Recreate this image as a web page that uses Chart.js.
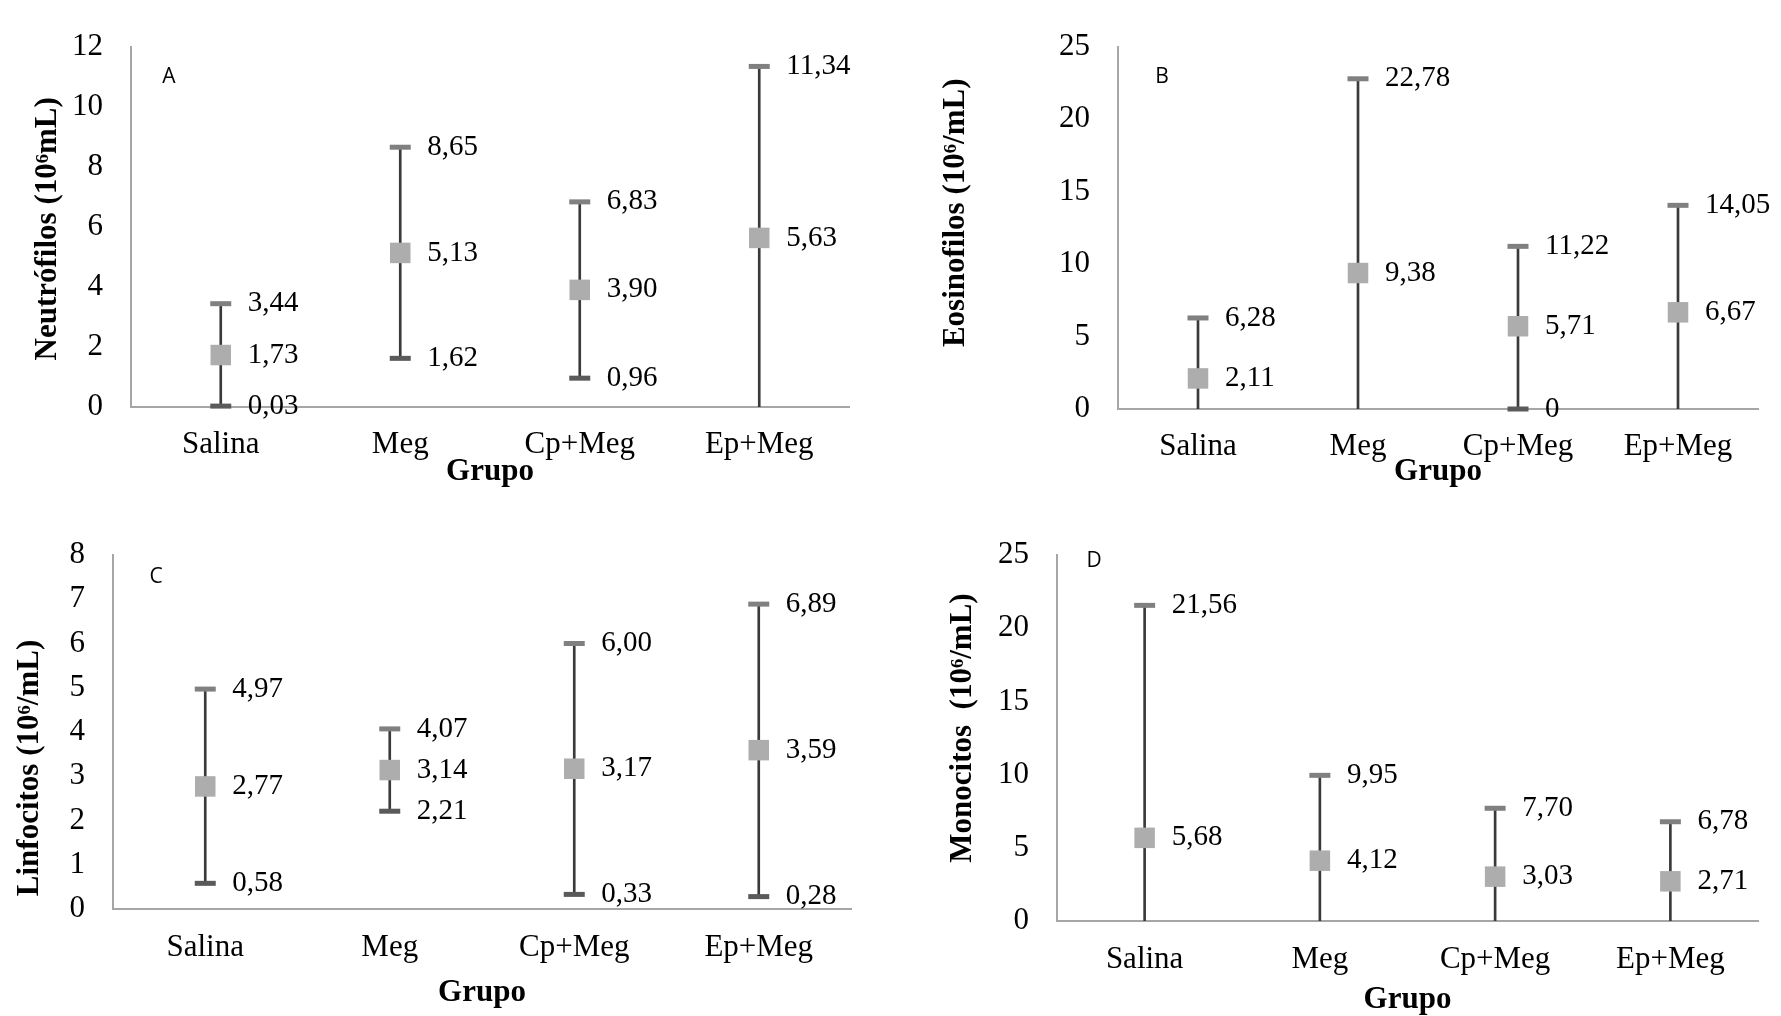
<!DOCTYPE html>
<html>
<head>
<meta charset="utf-8">
<script src="https://cdn.jsdelivr.net/npm/chart.js@4.4.1/dist/chart.umd.min.js"></script>
<style>
  html, body { margin: 0; padding: 0; background: #fff; }
  body { width: 1781px; height: 1016px; position: relative; overflow: hidden; }
  canvas { position: absolute; }
</style>
</head>
<body>
<canvas id="chartA" width="890" height="500" style="left:0;top:0"></canvas>
<canvas id="chartB" width="891" height="500" style="left:890px;top:0"></canvas>
<canvas id="chartC" width="890" height="516" style="left:0;top:500px"></canvas>
<canvas id="chartD" width="891" height="516" style="left:890px;top:500px"></canvas>
<script>
// groups on the x axis (same for all four panels)
const categories = ['Salina', 'Meg', 'Cp+Meg', 'Ep+Meg'];

// A - neutrophils
const neutroHigh = [3.44, 8.65, 6.83, 11.34];
const neutroMean = [1.73, 5.13, 3.90, 5.63];
const neutroLow  = [0.03, 1.62, 0.96, null];
const neutroTicks = [0, 2, 4, 6, 8, 10, 12];

// B - eosinophils
const eosinoHigh = [6.28, 22.78, 11.22, 14.05];
const eosinoMean = [2.11, 9.38, 5.71, 6.67];
const eosinoLow  = [null, null, 0, null];
const eosinoTicks = [0, 5, 10, 15, 20, 25];

// C - lymphocytes
const linfoHigh = [4.97, 4.07, 6.00, 6.89];
const linfoMean = [2.77, 3.14, 3.17, 3.59];
const linfoLow  = [0.58, 2.21, 0.33, 0.28];
const linfoTicks = [0, 1, 2, 3, 4, 5, 6, 7, 8];

// D - monocytes
const monoHigh = [21.56, 9.95, 7.70, 6.78];
const monoMean = [5.68, 4.12, 3.03, 2.71];
const monoLow  = [null, null, null, null];
const monoTicks = [0, 5, 10, 15, 20, 25];

const SERIF = '"Liberation Serif", "Times New Roman", serif';
const AXIS_GREY = '#A6A6A6';

function fmt(v) {
  return v === 0 ? '0' : v.toFixed(2).replace('.', ',');
}

// numbers written to the right of each marker
const valueLabels = {
  id: 'valueLabels',
  afterDatasetsDraw(chart) {
    const ctx = chart.ctx;
    ctx.save();
    ctx.font = '29px ' + SERIF;
    ctx.fillStyle = '#000';
    ctx.textAlign = 'left';
    ctx.textBaseline = 'middle';
    chart.data.datasets.forEach((ds, di) => {
      if (!ds.valueLabels) return;
      chart.getDatasetMeta(di).data.forEach((pt, i) => {
        const v = ds.data[i];
        if (v === null || v === undefined) return;
        ctx.fillText(fmt(v), pt.x + 27, pt.y);
      });
    });
    ctx.restore();
  }
};

// the little A / B / C / D in the corner + the rotated y title
// (Excel does not centre the y title exactly on the plot, so it is drawn here)
const panelText = {
  id: 'panelText',
  afterDraw(chart, args, opts) {
    const {ctx, chartArea} = chart;
    ctx.save();
    ctx.fillStyle = '#000';
    ctx.textAlign = 'center';
    ctx.textBaseline = 'middle';
    ctx.font = '21px "Open Sans", "Liberation Sans", sans-serif';
    ctx.fillText(opts.letter, chartArea.left + opts.dx, chartArea.top + opts.dy);

    ctx.translate(chartArea.left - opts.titleGap, (chartArea.top + chartArea.bottom) / 2 + opts.titleDy);
    ctx.rotate(-Math.PI / 2);
    ctx.font = 'bold 31px ' + SERIF;
    ctx.fillText(opts.title, 0, 0);
    ctx.restore();
  }
};

function makePanel(id, high, mean, low, yTicks, text, box) {
  new Chart(document.getElementById(id), {
    type: 'bar',
    data: {
      labels: categories,
      datasets: [
        { // high-low line (goes down to the axis where there is no low value)
          type: 'bar',
          data: high.map((h, i) => [low[i] ?? 0, h]),
          backgroundColor: '#3A3A3A',
          borderWidth: 0,
          barThickness: 2,
          grouped: false,
          order: 3
        },
        { // high caps
          type: 'line',
          data: high,
          showLine: false,
          pointStyle: 'line',
          pointRadius: 10.5,
          pointBorderWidth: 5,
          pointBorderColor: '#808080',
          clip: false,
          order: 2,
          valueLabels: true
        },
        { // low caps
          type: 'line',
          data: low,
          showLine: false,
          pointStyle: 'line',
          pointRadius: 10.5,
          pointBorderWidth: 5,
          pointBorderColor: '#5A5A5A',
          clip: false,
          order: 2,
          valueLabels: true
        },
        { // mean squares
          type: 'line',
          data: mean,
          showLine: false,
          pointStyle: 'rect',
          pointRadius: 14.5,
          pointBorderWidth: 0,
          pointBackgroundColor: '#ADADAD',
          clip: false,
          order: 1,
          valueLabels: true
        }
      ]
    },
    options: {
      responsive: false,
      animation: false,
      events: [],
      layout: { padding: { left: box.padL, right: box.padR, top: box.padT, bottom: box.padB } },
      plugins: {
        legend: { display: false },
        tooltip: { enabled: false },
        panelText: text
      },
      scales: {
        x: {
          offset: true,
          grid: { display: false, drawTicks: false },
          border: { display: true, color: AXIS_GREY, width: 2 },
          ticks: {
            color: '#000',
            font: { family: SERIF, size: 31 },
            padding: box.xTickPad,
            autoSkip: false,
            maxRotation: 0
          },
          title: {
            display: true,
            text: 'Grupo',
            color: '#000',
            font: { family: SERIF, size: 31, weight: 'bold' },
            padding: { top: 0, bottom: box.xTitlePad }
          },
          afterFit: s => { s.height = box.xH; }
        },
        y: {
          min: yTicks[0],
          max: yTicks[yTicks.length - 1],
          grid: { display: false, drawTicks: false },
          border: { display: true, color: AXIS_GREY, width: 2 },
          ticks: {
            stepSize: yTicks[1] - yTicks[0],
            color: '#000',
            font: { family: SERIF, size: 31 },
            padding: 28
          },
          afterFit: s => { s.width = box.yW; }
        }
      }
    },
    plugins: [valueLabels, panelText]
  });
}

makePanel('chartA', neutroHigh, neutroMean, neutroLow, neutroTicks,
  { letter: 'A', dx: 38, dy: 30, title: 'Neutrófilos (10⁶mL)', titleGap: 83, titleDy: 2 },
  { padL: 29, padR: 41, padT: 25, padB: 9, yW: 102, xH: 84, xTickPad: 19, xTitlePad: 0 });

makePanel('chartB', eosinoHigh, eosinoMean, eosinoLow, eosinoTicks,
  { letter: 'B', dx: 44, dy: 30, title: 'Eosinofilos (10⁶/mL)', titleGap: 162, titleDy: -15 },
  { padL: 47, padR: 23, padT: 25, padB: 9, yW: 181, xH: 82, xTickPad: 19, xTitlePad: 0 });

makePanel('chartC', linfoHigh, linfoMean, linfoLow, linfoTicks,
  { letter: 'C', dx: 43, dy: 22, title: 'Linfocitos (10⁶/mL)', titleGap: 83, titleDy: 36 },
  { padL: 11, padR: 39, padT: 55, padB: 4, yW: 102, xH: 103, xTickPad: 20, xTitlePad: 0 });

makePanel('chartD', monoHigh, monoMean, monoLow, monoTicks,
  { letter: 'D', dx: 37, dy: 6, title: 'Monocitos  (10⁶/mL)', titleGap: 94, titleDy: -10 },
  { padL: 54, padR: 23, padT: 55, padB: 0, yW: 113, xH: 95, xTickPad: 20, xTitlePad: -2.6 });
</script>
</body>
</html>
